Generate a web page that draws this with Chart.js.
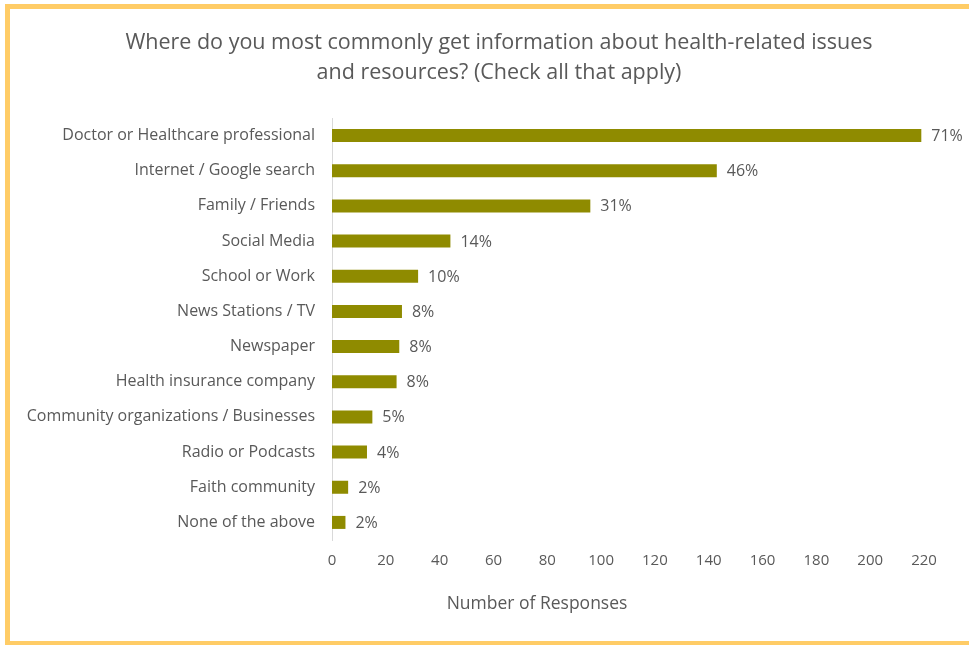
<!DOCTYPE html>
<html>
<head>
<meta charset="utf-8">
<title>Health information sources</title>
<script src="https://cdn.jsdelivr.net/npm/chart.js@4.4.1/dist/chart.umd.min.js"></script>
<style>
  html, body { margin: 0; padding: 0; background: #fff; overflow: hidden; }
  canvas { display: block; }
</style>
</head>
<body>
<canvas id="sourcesChart" width="969" height="645"></canvas>
<script>
// survey answers, in the order they are listed
const sources = [
  'Doctor or Healthcare professional',
  'Internet / Google search',
  'Family / Friends',
  'Social Media',
  'School or Work',
  'News Stations / TV',
  'Newspaper',
  'Health insurance company',
  'Community organizations / Businesses',
  'Radio or Podcasts',
  'Faith community',
  'None of the above'
];
const responses = [219, 143, 96, 44, 32, 26, 25, 24, 15, 13, 6, 5];
const percentLabels = ['71%', '46%', '31%', '14%', '10%', '8%', '8%', '8%', '5%', '4%', '2%', '2%'];
const titleLines = [
  'Where do you most commonly get information about health-related issues',
  'and resources? (Check all that apply)'
];
const axisTitle = 'Number of Responses';

const textColor = '#595959';
const fontFamily = '"Open Sans", sans-serif';

// yellow frame: top, left and bottom edges, running off the right side
const framePlugin = {
  id: 'frame',
  beforeDraw(chart) {
    const c = chart.ctx;
    c.save();
    c.fillStyle = '#FFCC66';
    c.fillRect(5, 4, chart.width, 5);
    c.fillRect(5, 4, 5, 640);
    c.fillRect(5, 641, chart.width, 5);
    c.restore();
  }
};

// percent next to each bar, plus the heading and axis caption
const labelPlugin = {
  id: 'labels',
  afterDatasetsDraw(chart) {
    const c = chart.ctx;
    const meta = chart.getDatasetMeta(0);
    c.save();
    c.fillStyle = textColor;
    c.textBaseline = 'middle';
    c.textAlign = 'left';
    c.font = '16px ' + fontFamily;
    meta.data.forEach(function (bar, i) {
      c.fillText(percentLabels[i], bar.x + 10, bar.y + 1);
    });

    c.textAlign = 'center';
    c.font = '21.5px ' + fontFamily;
    titleLines.forEach(function (line, i) {
      c.fillText(line, 499, 43 + i * 30);
    });

    c.font = '17.5px ' + fontFamily;
    c.fillText(axisTitle, 537, 604);
    c.restore();
  }
};

const ctx = document.getElementById('sourcesChart').getContext('2d');
const sourcesChart = new Chart(ctx, {
  type: 'bar',
  data: {
    labels: sources,
    datasets: [{
      label: 'Responses',
      data: responses,
      backgroundColor: '#8F8B00',
      borderWidth: 0,
      categoryPercentage: 1,
      barPercentage: 0.37
    }]
  },
  options: {
    indexAxis: 'y',
    responsive: false,
    animation: false,
    devicePixelRatio: 1,
    layout: {
      padding: { top: 118, left: 20, right: 45, bottom: 0 }
    },
    plugins: {
      legend: { display: false },
      title: { display: false },
      tooltip: { enabled: false }
    },
    scales: {
      x: {
        min: 0,
        max: 220,
        ticks: {
          stepSize: 20,
          padding: 12,
          color: textColor,
          font: { family: fontFamily, size: 15 }
        },
        grid: { display: false, drawTicks: false },
        border: { display: false },
        afterFit: function (scale) { scale.height = 105; }
      },
      y: {
        ticks: {
          padding: 17,
          color: textColor,
          font: { family: fontFamily, size: 16 }
        },
        grid: { display: false, drawTicks: false },
        border: { display: true, color: '#D9D9D9', width: 1 },
        afterFit: function (scale) { scale.width = 312; }
      }
    }
  },
  plugins: [framePlugin, labelPlugin]
});
</script>
</body>
</html>
